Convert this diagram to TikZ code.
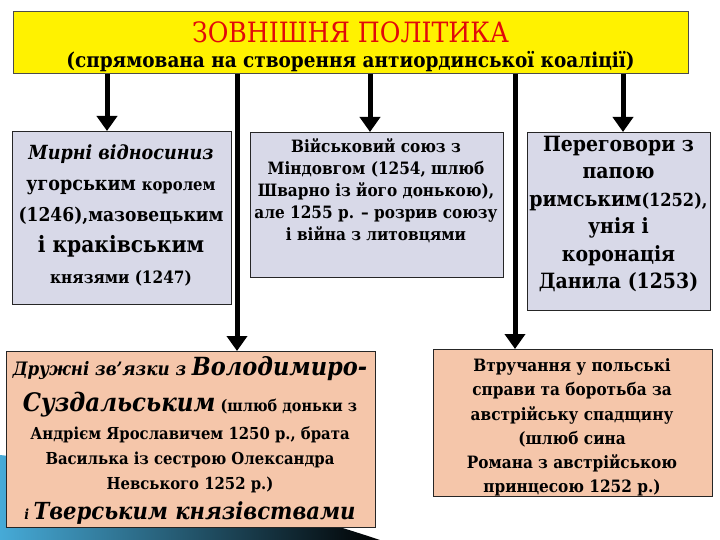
\documentclass[tikz,border=0pt]{standalone}
\usepackage{fontspec}
\setmainfont{DejaVu Serif Condensed}
\usetikzlibrary{arrows.meta}
\definecolor{lav}{RGB}{216,217,232}
\definecolor{peach}{RGB}{245,198,170}
\definecolor{ttlred}{RGB}{225,10,10}
\definecolor{swA}{RGB}{70,170,215}
\definecolor{swB}{RGB}{20,95,150}
\begin{document}
\begin{tikzpicture}[x=1pt,y=-1pt,
  box/.style={draw=black!85, line width=1.2pt, inner sep=0pt, anchor=north west},
  lavbox/.style={box, fill=lav},
  peachbox/.style={box, fill=peach},
  txt/.style={align=center, inner sep=0pt, text=black},
  conn/.style={line width=5pt, -{Triangle[width=20pt,length=15pt]}}]
\useasboundingbox[fill=white] (0,0) rectangle (720,540);
% decorative swoosh
\shade[left color=swA, middle color=swB, right color=black]
  (0,455) .. controls (120,468) and (260,500) .. (380,540) -- (0,540) -- cycle;
% header
\node[box, fill=yellow, draw=black!70, line width=0.8pt, minimum width=675pt, minimum height=62pt] (top) at (13,11) {};
\node[txt, text=ttlred, font=\fontsize{28}{28}\selectfont] (ttl) at (350.5,32) {ЗОВНІШНЯ ПОЛІТИКА};
\node[txt, font=\bfseries\fontsize{20.5}{22}\selectfont] (sub) at (350.5,62) {(спрямована на створення антиординської коаліції)};
% boxes
\node[lavbox, minimum width=219pt, minimum height=173pt] (b1) at (12,131) {};
\node[lavbox, minimum width=253pt, minimum height=145pt] (b2) at (250,132) {};
\node[lavbox, minimum width=183pt, minimum height=178pt] (b3) at (527,132) {};
\node[peachbox, minimum width=369pt, minimum height=176pt] (b4) at (6,351) {};
\node[peachbox, minimum width=279pt, minimum height=147pt] (b5) at (433,349) {};
% texts
\node[txt, font=\bfseries\fontsize{19}{31}\selectfont] (t1) at (121,215)
  {{\itshape\fontsize{19.5}{31}\selectfont Мирні відносиниз}\\ {\fontsize{19.5}{31}\selectfont угорським} {\fontsize{16.5}{31}\selectfont королем}\\ (1246),мазовецьким\\ {\fontsize{22.5}{31}\selectfont і краківським}\\ {\fontsize{17}{31}\selectfont князями (1247)}};
\node[txt, font=\bfseries\fontsize{17}{22}\selectfont] (t2) at (376,191)
  {Військовий союз з\\ Міндовгом (1254, шлюб\\ Шварно із його донькою),\\ але 1255 р. – розрив союзу\\ і війна з литовцями};
\node[txt, font=\bfseries\fontsize{21}{27.5}\selectfont] (t3) at (618.5,214)
  {Переговори з\\ папою\\ римським{\fontsize{18}{27.5}\selectfont(1252),}\\ унія і\\ коронація\\ Данила (1253)};
\node[txt, font=\bfseries\fontsize{16.5}{25}\selectfont] (t4) at (190,440)
  {{\itshape\fontsize{18.5}{25}\selectfont Дружні зв’язки з {\fontsize{25}{25}\selectfont Володимиро-}}\\[11pt]
   {\itshape\fontsize{25.5}{25}\selectfont Суздальським} {\fontsize{16}{25}\selectfont(шлюб доньки з}\\[3pt]
   Андрієм Ярославичем 1250 р., брата\\
   Василька із сестрою Олександра\\
   Невського 1252 р.)\\[5pt]
   {\itshape\fontsize{14}{25}\selectfont і {\fontsize{23.5}{25}\selectfont Тверським князівствами}}};
\node[txt, font=\bfseries\fontsize{17}{24.2}\selectfont] (t5) at (572,427.5)
  {Втручання у польські\\ справи та боротьба за\\ австрійську спадщину\\ (шлюб сина\\ Романа з австрійською\\ принцесою 1252 р.)};
% connectors
\coordinate (x1) at (107,0);
\coordinate (x2) at (237,0);
\coordinate (x3) at (370,0);
\coordinate (x4) at (515,0);
\coordinate (x5) at (623,0);
\draw[conn] (top.south -| x1) -- (b1.north -| x1);
\draw[conn] (top.south -| x2) -- (b4.north -| x2);
\draw[conn] (top.south -| x3) -- (b2.north -| x3);
\draw[conn] (top.south -| x4) -- (b5.north -| x4);
\draw[conn] (top.south -| x5) -- (b3.north -| x5);
\end{tikzpicture}
\end{document}
